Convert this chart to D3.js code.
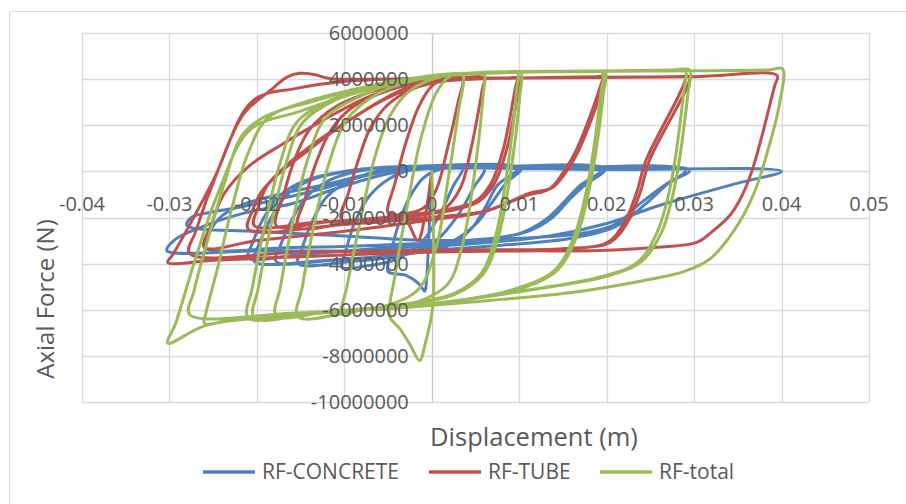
<!DOCTYPE html>
<html>
<head>
<meta charset="utf-8">
<script src="https://cdn.jsdelivr.net/npm/d3@7"></script>
<style>
	body { margin: 0; background: #fff; }
	text { font-family: "Open Sans", sans-serif; fill: #595959; }
</style>
</head>
<body>
<div id="svgElement1"></div>
<script>
// tick values on both axes
var xTicks = [-0.04, -0.03, -0.02, -0.01, 0, 0.01, 0.02, 0.03, 0.04, 0.05];
var yTicks = [-10000000, -8000000, -6000000, -4000000, -2000000, 0, 2000000, 4000000, 6000000];
var seriesNames = ["RF-CONCRETE", "RF-TUBE", "RF-total"];
var seriesColors = ["#4f81bd", "#c0504d", "#9bbb59"];

// [displacement (m), axial force (N)], in load order
var concreteData = [
	[0,0],[-0.0003,-2.5e6],[-0.0006,-4.7e6],[-0.0008,-5.2e6],[-0.0014,-4.9e6],[-0.003,-4.5e6],[-0.005,-4.35e6],
	[-0.0047,-3.6e6],[-0.0038,-2.3e6],[-0.0025,-1.1e6],[-0.001,-0.3e6],[0.001,0.1e6],[0.0035,0.12e6],
	[0.0025,-0.6e6],[0.001,-1.8e6],[-0.001,-3.0e6],[-0.004,-3.8e6],[-0.0075,-4.1e6],[-0.0103,-4.15e6],
	[-0.0098,-3.4e6],[-0.0088,-2.2e6],[-0.0072,-1.1e6],[-0.005,-0.35e6],[-0.002,0.1e6],[0.002,0.15e6],[0.006,0.12e6],
	[0.0048,-0.7e6],[0.003,-1.9e6],[0.0005,-3.0e6],[-0.003,-3.6e6],[-0.009,-3.9e6],[-0.0153,-4.0e6],
	[-0.0148,-3.3e6],[-0.0137,-2.2e6],[-0.012,-1.1e6],[-0.009,-0.35e6],[-0.005,0.1e6],[0.0,0.2e6],[0.0098,0.12e6],
	[0.0075,-0.6e6],[0.0062,-1.5e6],[0.0045,-2.5e6],[0.002,-3.2e6],[-0.003,-3.6e6],[-0.01,-3.8e6],[-0.0178,-3.9e6],
	[-0.0173,-3.2e6],[-0.016,-2.1e6],[-0.0143,-1.1e6],[-0.0115,-0.35e6],[-0.007,0.1e6],[-0.002,0.22e6],[0.0102,0.12e6],
	[0.0085,-0.5e6],[0.0068,-1.4e6],[0.005,-2.3e6],[0.002,-3.1e6],[-0.004,-3.6e6],[-0.012,-3.85e6],[-0.0203,-3.9e6],
	[-0.0198,-3.2e6],[-0.0185,-2.1e6],[-0.0168,-1.1e6],[-0.014,-0.4e6],[-0.009,0.05e6],[-0.004,0.2e6],[0.005,0.18e6],[0.0198,0.1e6],
	[0.0175,-0.6e6],[0.0158,-1.2e6],[0.0138,-2.0e6],[0.011,-2.6e6],[0.005,-3.0e6],[-0.005,-3.3e6],[-0.015,-3.6e6],[-0.021,-3.75e6],
	[-0.0205,-3.1e6],[-0.0192,-2.0e6],[-0.0174,-1.05e6],[-0.0145,-0.4e6],[-0.01,0.0],[-0.004,0.2e6],[0.005,0.18e6],[0.0195,0.1e6],
	[0.017,-0.6e6],[0.0152,-1.3e6],[0.013,-2.1e6],[0.01,-2.7e6],[0.004,-3.0e6],[-0.006,-3.2e6],[-0.016,-3.3e6],[-0.026,-3.3e6],
	[-0.0255,-2.7e6],[-0.0242,-2.0e6],[-0.022,-1.5e6],[-0.0175,-1.0e6],[-0.0125,-0.6e6],[-0.0075,-0.15e6],[-0.0025,0.17e6],[0.01,0.12e6],[0.0295,0.05e6],
	[0.027,-0.5e6],[0.0238,-1.4e6],[0.021,-2.3e6],[0.017,-2.7e6],[0.01,-2.9e6],[0.0,-3.0e6],[-0.01,-2.8e6],[-0.02,-2.6e6],[-0.028,-2.34e6],
	[-0.0275,-2.0e6],[-0.025,-1.75e6],[-0.022,-1.56e6],[-0.0132,-0.82e6],[-0.0074,-0.17e6],[-0.0025,0.17e6],[0.01,0.12e6],[0.029,0.05e6],
	[0.0268,-0.6e6],[0.0245,-1.4e6],[0.021,-2.4e6],[0.016,-2.9e6],[0.008,-3.2e6],[0.0,-3.4e6],[-0.01,-3.45e6],[-0.02,-3.45e6],[-0.0303,-3.43e6],
	[-0.0295,-3.0e6],[-0.0273,-2.56e6],[-0.0216,-1.82e6],[-0.0159,-1.39e6],[-0.0105,-0.69e6],[-0.005,-0.1e6],[0.0,0.12e6],[0.02,0.08e6],[0.04,0.0],
	[0.0349,-0.52e6],[0.0261,-1.47e6],[0.02,-2.26e6],[0.0138,-2.78e6],[0.006,-3.1e6],[0.0,-3.25e6],[-0.006,-3.35e6]
];

var tubeData = [
	[0,0],[-0.0008,-2.0e6],[-0.0016,-3.0e6],[-0.0028,-2.2e6],[-0.004,-1.9e6],[-0.005,-1.8e6],
	[-0.0042,-0.5e6],[-0.003,1.2e6],[-0.0015,2.8e6],[0.0,3.7e6],[0.0015,4.0e6],[0.0035,4.05e6],
	[0.003,3.0e6],[0.0018,1.0e6],[0.0005,-0.8e6],[-0.001,-1.6e6],[-0.004,-1.9e6],[-0.0103,-2.1e6],
	[-0.0095,-0.9e6],[-0.0083,0.6e6],[-0.007,1.9e6],[-0.005,2.9e6],[-0.002,3.6e6],[0.002,3.95e6],[0.006,4.05e6],
	[0.0058,3.6e6],[0.0045,1.0e6],[0.0033,-0.7e6],[0.0015,-1.6e6],[-0.003,-2.0e6],[-0.009,-2.2e6],[-0.0153,-2.4e6],
	[-0.0145,-1.2e6],[-0.0132,0.4e6],[-0.0115,1.8e6],[-0.009,2.8e6],[-0.005,3.5e6],[0.0,3.95e6],[0.0088,4.05e6],[0.0098,4.05e6],
	[0.0096,3.7e6],[0.0082,1.0e6],[0.0068,-0.5e6],[0.005,-1.3e6],[0.0025,-1.6e6],[-0.004,-1.95e6],[-0.012,-2.2e6],[-0.0178,-2.35e6],
	[-0.017,-1.1e6],[-0.0157,0.5e6],[-0.014,1.8e6],[-0.011,2.8e6],[-0.0065,3.5e6],[-0.001,3.95e6],[0.0092,4.05e6],[0.0102,4.05e6],
	[0.01,3.7e6],[0.0086,1.0e6],[0.0072,-0.5e6],[0.0054,-1.3e6],[0.0028,-1.65e6],[-0.005,-2.0e6],[-0.013,-2.2e6],[-0.0203,-2.35e6],
	[-0.0198,-1.5e6],[-0.0188,-0.6e6],[-0.0165,0.3e6],[-0.0135,1.2e6],[-0.0095,2.2e6],[-0.0055,3.1e6],[-0.001,3.8e6],[0.005,4.0e6],[0.0188,4.1e6],[0.0198,4.1e6],
	[0.0195,3.6e6],[0.0168,0.9e6],[0.0154,0.0],[0.0138,-0.7e6],[0.0112,-0.95e6],[0.0063,-1.7e6],[0.0,-2.0e6],[-0.01,-2.3e6],[-0.021,-2.5e6],
	[-0.0205,-1.7e6],[-0.0195,-0.9e6],[-0.0175,-0.1e6],[-0.0145,0.8e6],[-0.011,1.8e6],[-0.007,2.8e6],[-0.003,3.6e6],[0.002,3.95e6],[0.01,4.05e6],[0.0185,4.1e6],[0.0195,4.1e6],
	[0.0192,3.6e6],[0.0165,0.9e6],[0.0151,0.0],[0.0135,-0.75e6],[0.0108,-1.05e6],[0.006,-1.75e6],[0.0,-2.1e6],[-0.01,-2.6e6],[-0.02,-3.0e6],[-0.026,-3.3e6],
	[-0.0252,-2.3e6],[-0.0238,-1.0e6],[-0.021,0.2e6],[-0.017,1.2e6],[-0.0125,2.2e6],[-0.008,3.1e6],[-0.003,3.8e6],[0.003,4.0e6],[0.01,4.05e6],[0.0285,4.1e6],[0.0295,4.1e6],
	[0.029,3.5e6],[0.0249,0.48e6],[0.0238,-0.95e6],[0.0223,-2.26e6],[0.0204,-3.08e6],[0.0158,-3.34e6],[0.005,-3.4e6],[-0.005,-3.45e6],[-0.015,-3.5e6],[-0.0277,-3.55e6],
	[-0.027,-2.6e6],[-0.0245,0.0],[-0.0215,2.5e6],[-0.0185,3.5e6],[-0.0165,4.1e6],[-0.0151,4.25e6],[-0.0135,4.2e6],[-0.0117,4.03e6],[-0.005,4.0e6],[0.01,4.05e6],[0.028,4.1e6],[0.029,4.1e6],
	[0.0285,3.5e6],[0.0245,0.48e6],[0.0234,-0.95e6],[0.0219,-2.3e6],[0.02,-3.1e6],[0.015,-3.35e6],[0.005,-3.45e6],[-0.005,-3.55e6],[-0.015,-3.7e6],[-0.025,-3.85e6],[-0.0302,-3.95e6],
	[-0.0296,-3.6e6],[-0.025,-0.4e6],[-0.0205,3.05e6],[-0.0155,3.6e6],[-0.01,3.9e6],[-0.003,4.02e6],[0.01,4.05e6],[0.03,4.1e6],[0.0395,4.15e6],
	[0.0392,3.7e6],[0.0366,0.0],[0.0352,-1.26e6],[0.0341,-1.9e6],[0.0321,-2.6e6],[0.0303,-3.08e6],[0.0253,-3.3e6],[0.0192,-3.43e6],[0.01,-3.45e6],[0.0,-3.5e6],[-0.006,-3.55e6]
];

var totalData = [
	[0,0],[0.0002,-3.0e6],[0.0001,-5.9e6],[-0.0007,-7.4e6],[-0.0014,-8.2e6],[-0.0025,-7.5e6],[-0.0037,-6.8e6],[-0.0048,-6.3e6],
	[-0.0042,-4.5e6],[-0.0028,-1.5e6],[-0.0012,1.5e6],[0.0005,3.4e6],[0.002,4.1e6],[0.0035,4.2e6],
	[0.003,2.5e6],[0.0018,-0.5e6],[0.0005,-3.3e6],[-0.0015,-5.1e6],[-0.005,-5.8e6],[-0.0085,-6.05e6],[-0.0103,-6.2e6],
	[-0.0097,-5.0e6],[-0.0082,-2.2e6],[-0.0066,0.5e6],[-0.0048,2.4e6],[-0.0025,3.5e6],[0.001,4.1e6],[0.0048,4.23e6],[0.006,4.25e6],
	[0.0059,3.4e6],[0.0047,-0.6e6],[0.0035,-3.2e6],[0.0018,-4.9e6],[-0.002,-5.7e6],[-0.008,-6.0e6],[-0.0153,-6.3e6],
	[-0.0148,-5.0e6],[-0.0134,-2.2e6],[-0.0118,0.3e6],[-0.0098,2.2e6],[-0.0065,3.3e6],[-0.002,3.95e6],[0.004,4.25e6],[0.0085,4.3e6],[0.0098,4.3e6],
	[0.0097,3.5e6],[0.0085,-0.3e6],[0.0073,-2.8e6],[0.0057,-4.4e6],[0.0025,-5.3e6],[-0.004,-5.8e6],[-0.012,-6.1e6],[-0.0178,-6.25e6],
	[-0.0173,-5.0e6],[-0.0158,-2.0e6],[-0.0142,0.5e6],[-0.0122,2.3e6],[-0.0085,3.2e6],[-0.004,3.85e6],[0.002,4.2e6],[0.009,4.3e6],[0.0102,4.3e6],
	[0.0101,3.4e6],[0.0088,-0.6e6],[0.0075,-3.0e6],[0.0058,-4.5e6],[0.0025,-5.35e6],[-0.005,-5.85e6],[-0.013,-6.1e6],[-0.0203,-6.35e6],
	[-0.0198,-5.0e6],[-0.0183,-2.2e6],[-0.0167,0.3e6],[-0.0148,2.1e6],[-0.011,3.1e6],[-0.005,3.8e6],[0.001,4.2e6],[0.01,4.3e6],[0.0185,4.32e6],[0.0198,4.3e6],
	[0.0196,3.3e6],[0.018,-0.8e6],[0.0165,-2.9e6],[0.0143,-4.3e6],[0.01,-5.1e6],[0.003,-5.6e6],[-0.006,-5.95e6],[-0.015,-6.2e6],[-0.021,-6.35e6],
	[-0.0205,-5.0e6],[-0.019,-2.2e6],[-0.0174,0.3e6],[-0.0155,2.1e6],[-0.0118,3.05e6],[-0.006,3.75e6],[0.0,4.15e6],[0.01,4.3e6],[0.0182,4.32e6],[0.0195,4.3e6],
	[0.0193,3.3e6],[0.0177,-0.8e6],[0.0162,-2.9e6],[0.014,-4.3e6],[0.0095,-5.1e6],[0.002,-5.65e6],[-0.008,-6.0e6],[-0.018,-6.3e6],[-0.0235,-6.5e6],[-0.026,-6.6e6],
	[-0.0258,-6.1e6],[-0.0245,-4.2e6],[-0.0228,-1.5e6],[-0.021,0.8e6],[-0.0188,2.3e6],[-0.015,2.95e6],[-0.009,3.55e6],[-0.003,4.0e6],[0.006,4.3e6],[0.018,4.35e6],[0.028,4.4e6],[0.0295,4.4e6],
	[0.0293,3.4e6],[0.0277,-0.8e6],[0.0262,-2.7e6],[0.024,-3.9e6],[0.02,-4.55e6],[0.012,-5.1e6],[0.003,-5.6e6],[-0.006,-5.95e6],[-0.016,-6.15e6],[-0.0277,-6.2e6],
	[-0.0272,-5.2e6],[-0.0255,-2.8e6],[-0.0237,-0.5e6],[-0.0218,1.5e6],[-0.0192,2.35e6],[-0.014,3.0e6],[-0.008,3.6e6],[-0.002,4.05e6],[0.008,4.3e6],[0.02,4.35e6],[0.0277,4.4e6],[0.029,4.4e6],
	[0.0288,3.4e6],[0.0272,-0.8e6],[0.0257,-2.7e6],[0.0235,-3.95e6],[0.019,-4.6e6],[0.01,-5.2e6],[0.0,-5.75e6],[-0.01,-6.05e6],[-0.02,-6.35e6],[-0.026,-6.7e6],[-0.0302,-7.45e6],
	[-0.0293,-6.6e6],[-0.0272,-4.0e6],[-0.0245,-1.0e6],[-0.0208,1.8e6],[-0.0151,2.6e6],[-0.01,3.25e6],[-0.004,3.85e6],[0.0,4.1e6],[0.01,4.3e6],[0.025,4.35e6],[0.0385,4.4e6],[0.0401,4.45e6],
	[0.0398,3.0e6],[0.0385,1.0e6],[0.0368,-1.0e6],[0.0345,-2.6e6],[0.0318,-3.8e6],[0.0288,-4.35e6],[0.024,-4.75e6],[0.016,-5.25e6],[0.008,-5.55e6],[0.0,-5.8e6],[-0.006,-6.0e6]
];

var allSeries = [concreteData, tubeData, totalData];

var width = 906, height = 504;
var padding = {top: 33, bottom: 102, left: 82, right: 37};

var svg = d3.select("#svgElement1").append("svg").attr("width", width).attr("height", height);

var x = d3.scaleLinear().domain([-0.04, 0.05]).range([padding.left, width - padding.right]);
var y = d3.scaleLinear().domain([-10000000, 6000000]).range([height - padding.bottom, padding.top]);

// chart area border (only top and left are inside the picture)
svg.append("path")
	.attr("d", "M9.5," + height + "V11.5H" + width)
	.style("fill", "none")
	.style("stroke", "#d9d9d9");

// gridlines
svg.append("g").selectAll("line").data(xTicks).enter().append("line")
	.attr("x1", function(d) { return Math.round(x(d)) + 0.5; })
	.attr("x2", function(d) { return Math.round(x(d)) + 0.5; })
	.attr("y1", y(6000000))
	.attr("y2", y(-10000000))
	.style("stroke", function(d) { return d == 0 ? "#c8c8c8" : "#d9d9d9"; })
	.style("stroke-width", 1.3);

svg.append("g").selectAll("line").data(yTicks).enter().append("line")
	.attr("x1", x(-0.04))
	.attr("x2", x(0.05))
	.attr("y1", function(d) { return Math.round(y(d)) + 0.5; })
	.attr("y2", function(d) { return Math.round(y(d)) + 0.5; })
	.style("stroke", "#d9d9d9")
	.style("stroke-width", 1.3);

// smoothed loops
var line = d3.line()
	.x(function(d) { return x(d[0]); })
	.y(function(d) { return y(d[1]); })
	.curve(d3.curveCatmullRom.alpha(0.5));

for (var i = 0; i < allSeries.length; i++) {
	svg.append("path")
		.datum(allSeries[i])
		.attr("d", line)
		.style("fill", "none")
		.style("stroke", seriesColors[i])
		.style("stroke-width", 3)
		.style("stroke-linejoin", "round")
		.style("stroke-linecap", "round");
}

// tick labels sit next to the axes that cross at zero
svg.append("g").selectAll("text").data(xTicks).enter().append("text")
	.attr("x", function(d) { return x(d); })
	.attr("y", y(0) + 40)
	.attr("font-size", "20px")
	.style("text-anchor", "middle")
	.text(function(d) { return String(d); });

svg.append("g").selectAll("text").data(yTicks).enter().append("text")
	.attr("x", x(0) - 23)
	.attr("y", function(d) { return y(d) + 7; })
	.attr("font-size", "20px")
	.style("text-anchor", "end")
	.text(function(d) { return String(d); });

// axis titles
svg.append("text")
	.attr("x", 534)
	.attr("y", 446)
	.attr("font-size", "25.5px")
	.style("text-anchor", "middle")
	.text("Displacement (m)");

svg.append("text")
	.attr("transform", "translate(54,299) rotate(-90)")
	.attr("font-size", "24px")
	.style("text-anchor", "middle")
	.text("Axial Force (N)");

// legend
var legendX = [203, 429, 600];
for (var i = 0; i < seriesNames.length; i++) {
	svg.append("line")
		.attr("x1", legendX[i])
		.attr("x2", legendX[i] + 52)
		.attr("y1", 472)
		.attr("y2", 472)
		.style("stroke", seriesColors[i])
		.style("stroke-width", 3.5);
	svg.append("text")
		.attr("x", legendX[i] + 59)
		.attr("y", 479)
		.attr("font-size", "21px")
		.text(seriesNames[i]);
}
</script>
</body>
</html>
